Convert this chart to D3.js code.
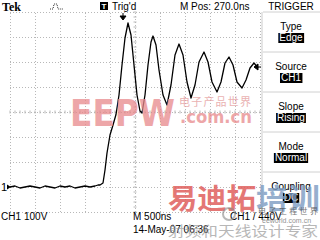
<!DOCTYPE html>
<html>
<head>
<meta charset="utf-8">
<script src="https://cdn.jsdelivr.net/npm/d3@7"></script>
<style>
  body { margin: 0; background: #fff; }
  svg { display: block; font-family: "Liberation Sans", Arial, sans-serif; }
  .grid line { stroke: #b8b8b8; stroke-dasharray: 1,2; }
  .grid path { display: none; }
</style>
</head>
<body>
<svg id="scope" width="320" height="240"></svg>
<script>
// Captured trace, time in ns from left edge of screen, volts on CH1
const timeNs = [
  0, 100, 200, 300, 400, 500, 600, 700, 800, 900, 1000, 1100, 1200, 1300, 1400,
  1500, 1600, 1700, 1760, 1800, 1860, 1900, 1940, 2000, 2060, 2120, 2180, 2240,
  2300, 2360, 2420, 2480, 2540, 2600, 2640, 2700, 2760, 2820, 2860, 2920, 2980,
  3060, 3140, 3220, 3300, 3380, 3460, 3540, 3620, 3700, 3780, 3880, 3960, 4040,
  4140, 4220, 4300, 4380, 4460, 4540, 4640, 4720, 4800, 4880, 4960
];
const volts = [
  0, 4, -4, 0, 4, 0, -4, 4, 0, -4, 4, 0, 4, -4, 0,
  4, 0, 4, 8, 8, 16, 68, 136, 208, 248, 290, 368, 488,
  596, 656, 608, 488, 368, 304, 296, 368, 488, 580, 604, 568, 468,
  368, 328, 408, 528, 572, 528, 420, 356, 408, 500, 540, 500, 420,
  380, 420, 496, 520, 488, 420, 396, 428, 476, 496, 476
];

const hTicks = d3.range(0, 5001, 500);   // 500 ns / div
const vTicks = d3.range(-100, 701, 100); // 100 V / div

const menuTitles = ['Type', 'Source', 'Slope', 'Mode', 'Coupling'];
const menuValues = ['Edge', 'CH1', 'Rising', 'Normal', 'DC'];

const trigLevel = 480;
const trigTime = 2260;

const svg = d3.select('#scope');

const x = d3.scaleLinear().domain([0, 5000]).range([10, 260]);
const y = d3.scaleLinear().domain([-100, 700]).range([212, 12]);

svg.append('rect').attr('width', 320).attr('height', 240).attr('fill', '#fff');

// Graticule
svg.append('g')
  .attr('class', 'grid')
  .attr('transform', 'translate(0,212)')
  .call(d3.axisBottom(x).tickValues(hTicks).tickSize(-200).tickFormat(''));

svg.append('g')
  .attr('class', 'grid')
  .attr('transform', 'translate(10,0)')
  .call(d3.axisLeft(y).tickValues(vTicks).tickSize(-250).tickFormat(''));

// Minor ticks on the center lines
const minorH = d3.range(0, 5001, 100);
const minorV = d3.range(-100, 701, 20);
svg.append('g').selectAll('line')
  .data(minorH)
  .join('line')
  .attr('x1', d => x(d)).attr('x2', d => x(d))
  .attr('y1', y(300) - 1.5).attr('y2', y(300) + 1.5)
  .attr('stroke', '#b8b8b8');
svg.append('g').selectAll('line')
  .data(minorV)
  .join('line')
  .attr('x1', x(2500) - 1.5).attr('x2', x(2500) + 1.5)
  .attr('y1', d => y(d)).attr('y2', d => y(d))
  .attr('stroke', '#b8b8b8');

// Waveform
const points = timeNs.map((t, i) => [t, volts[i]]);
svg.append('path')
  .datum(points)
  .attr('fill', 'none')
  .attr('stroke', '#000')
  .attr('stroke-width', 1.3)
  .attr('stroke-linejoin', 'round')
  .attr('d', d3.line().x(d => x(d[0])).y(d => y(d[1])));

// Ground marker, trigger level and trigger position
svg.append('text').attr('x', 1).attr('y', y(0) + 4).attr('font-size', 11).text('1');
svg.append('path')
  .attr('d', `M7,${y(0) - 2.5} L11,${y(0)} L7,${y(0) + 2.5} Z`)
  .attr('fill', '#000');
svg.append('path')
  .attr('d', `M254,${y(trigLevel)} L258,${y(trigLevel) - 3} L258,${y(trigLevel) + 3} Z M257,${y(trigLevel)} L261,${y(trigLevel)}`)
  .attr('fill', '#000').attr('stroke', '#000').attr('stroke-width', 1);
svg.append('path')
  .attr('d', `M${x(trigTime) - 3},16 L${x(trigTime) + 3},16 L${x(trigTime)},20 Z M${x(trigTime)},13 L${x(trigTime)},17`)
  .attr('fill', '#000').attr('stroke', '#000').attr('stroke-width', 1);

// Top status bar
svg.append('text').attr('x', 2).attr('y', 11)
  .attr('font-family', '"Liberation Serif", serif').attr('font-weight', 'bold').attr('font-size', 12)
  .text('Tek');
svg.append('path')
  .attr('d', 'M50,9 L53,9 L54,4 L57,4 L58,9 L63,9')
  .attr('fill', 'none').attr('stroke', '#000').attr('stroke-width', 0.8)
  .attr('stroke-dasharray', '1,1');
svg.append('rect').attr('x', 100).attr('y', 2).attr('width', 8).attr('height', 8).attr('fill', '#000');
svg.append('text').attr('x', 104).attr('y', 9).attr('font-size', 8).attr('font-weight', 'bold')
  .attr('fill', '#fff').attr('text-anchor', 'middle').text('T');
svg.append('text').attr('x', 112).attr('y', 10).attr('font-size', 10).text("Trig'd");
svg.append('text').attr('x', 180).attr('y', 10).attr('font-size', 10).text('M Pos: 270.0ns');

// Right-hand trigger menu
const menu = svg.append('g');
menu.append('line').attr('x1', 262).attr('x2', 262).attr('y1', 12).attr('y2', 212)
  .attr('stroke', '#ccc');
menu.append('text').attr('x', 291).attr('y', 10).attr('font-size', 10)
  .attr('text-anchor', 'middle').text('TRIGGER');

menuTitles.forEach((title, i) => {
  const top = 12 + 40 * i;
  menu.append('line').attr('x1', 263).attr('x2', 320).attr('y1', top).attr('y2', top)
    .attr('stroke', '#d0d0d0');
  menu.append('text').attr('x', 291).attr('y', top + 18).attr('font-size', 10)
    .attr('text-anchor', 'middle').text(title);
  const box = menu.append('rect').attr('fill', '#000');
  const label = menu.append('text').attr('x', 291).attr('y', top + 29).attr('font-size', 10)
    .attr('text-anchor', 'middle').attr('fill', '#fff').text(menuValues[i]);
  const bb = label.node().getBBox();
  box.attr('x', bb.x - 1).attr('y', top + 21).attr('width', bb.width + 2).attr('height', 10);
});

// Bottom readouts
svg.append('text').attr('x', 1).attr('y', 220).attr('font-size', 10).text('CH1');
svg.append('text').attr('x', 24).attr('y', 220).attr('font-size', 10).text('100V');
svg.append('text').attr('x', 133).attr('y', 220).attr('font-size', 10).text('M 500ns');
svg.append('text').attr('x', 230).attr('y', 220).attr('font-size', 10).text('CH1  /  440V');
svg.append('text').attr('x', 133).attr('y', 233).attr('font-size', 10).text('14-May-07 06:36');

// Watermarks
const wm = svg.append('g');
wm.append('text').attr('x', 70).attr('y', 126).attr('font-family', '"DejaVu Sans", sans-serif')
  .attr('font-weight', 'bold').attr('font-size', 38).attr('textLength', 105)
  .attr('lengthAdjust', 'spacingAndGlyphs').attr('fill', '#e8898b').attr('opacity', 0.75)
  .text('EEPW');
wm.append('text').attr('x', 179).attr('y', 106).attr('font-family', '"Noto Sans CJK SC"')
  .attr('font-size', 11).attr('textLength', 72).attr('fill', '#e6a0a0').attr('opacity', 0.8)
  .text('电子产品世界');
wm.append('text').attr('x', 180).attr('y', 123).attr('font-family', '"DejaVu Sans", sans-serif')
  .attr('font-weight', 'bold').attr('font-size', 17).attr('textLength', 72)
  .attr('lengthAdjust', 'spacingAndGlyphs').attr('fill', '#e8898b').attr('opacity', 0.75)
  .text('.com.cn');
wm.append('text').attr('x', 168).attr('y', 209).attr('font-family', '"Noto Sans CJK SC"')
  .attr('font-weight', 'bold').attr('font-size', 28).attr('textLength', 88)
  .attr('lengthAdjust', 'spacingAndGlyphs').attr('fill', '#e0605e').attr('opacity', 0.85)
  .text('易迪拓');
wm.append('text').attr('x', 256).attr('y', 209).attr('font-family', '"Noto Sans CJK SC"')
  .attr('font-weight', 'bold').attr('font-size', 28).attr('textLength', 64)
  .attr('lengthAdjust', 'spacingAndGlyphs').attr('fill', '#7d9cc2').attr('opacity', 0.8)
  .text('培训');
wm.append('text').attr('x', 258).attr('y', 214).attr('font-family', '"Noto Sans CJK SC"')
  .attr('font-size', 8).attr('textLength', 60).attr('fill', '#555').attr('opacity', 0.8)
  .text('电子工程世界');
wm.append('text').attr('x', 262).attr('y', 223).attr('font-size', 7).attr('fill', '#777')
  .attr('opacity', 0.8).text('eeworld.com.cn');
wm.append('circle').attr('cx', 229).attr('cy', 214).attr('r', 6)
  .attr('fill', 'none').attr('stroke', '#888').attr('stroke-width', 2).attr('opacity', 0.6);
wm.append('text').attr('x', 168).attr('y', 236).attr('font-family', '"Noto Sans CJK SC"')
  .attr('font-size', 14).attr('textLength', 150).attr('lengthAdjust', 'spacingAndGlyphs')
  .attr('fill', '#9a9a9a').attr('opacity', 0.7)
  .text('射频和天线设计专家');
</script>
</body>
</html>
